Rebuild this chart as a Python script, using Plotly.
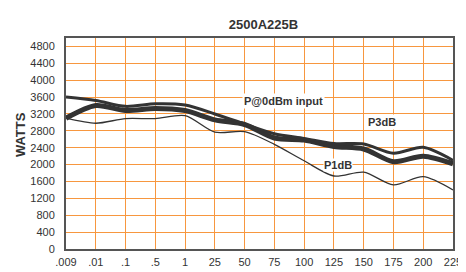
import plotly.graph_objects as go

categories = [".009", ".01", ".1", ".5", "1", "25", "50", "75", "100", "125", "150", "175", "200", "225"]
p3db = [3600, 3520, 3380, 3440, 3410, 3200, 2960, 2730, 2620, 2500, 2490, 2270, 2410, 2100]
p0dbm = [3100, 3400, 3280, 3330, 3280, 3060, 2950, 2630, 2580, 2430, 2370, 2070, 2200, 2020]
p1db = [3100, 2980, 3090, 3090, 3160, 2770, 2780, 2480, 2090, 1730, 1820, 1520, 1715, 1400]
y_ticks = list(range(0, 5000, 400))

xpos = list(range(len(categories)))
FONT = "Liberation Sans, Arial, sans-serif"
GRID = "#F7973F"
LINE = "#333333"
L, R = 58, 13
PW = 466 - L - R

fig = go.Figure()
fig.add_trace(go.Scatter(x=xpos, y=p1db, mode="lines", line=dict(color=LINE, width=1.3, shape="spline", smoothing=0.8), name="P1dB"))
fig.add_trace(go.Scatter(x=xpos, y=p0dbm, mode="lines", line=dict(color=LINE, width=5, shape="spline", smoothing=0.8), name="P@0dBm input"))
fig.add_trace(go.Scatter(x=xpos, y=p3db, mode="lines", line=dict(color=LINE, width=3, shape="spline", smoothing=0.8), name="P3dB"))

fig.update_layout(
    width=466, height=272,
    margin=dict(l=L, r=R, t=30, b=16),
    paper_bgcolor="white", plot_bgcolor="white",
    showlegend=False,
    font=dict(family=FONT, size=11, color="#333333"),
    title=dict(text="<b>2500A225B</b>", x=(L + PW / 2) / 466, xanchor="center", y=1 - 16 / 272, yanchor="middle",
               font=dict(family=FONT, size=13, color="#333333")),
)
fig.update_xaxes(
    range=[0, 13], tickmode="array", tickvals=xpos, ticktext=categories,
    showgrid=True, gridcolor=GRID, gridwidth=1.3,
    showline=True, linecolor="#555555", linewidth=2, mirror=True,
    ticks="", ticklabelstandoff=2, zeroline=False,
    tickfont=dict(family=FONT, size=11, color="#333333"),
)
fig.update_yaxes(
    range=[0, 5000], tickmode="array", tickvals=y_ticks, ticktext=[str(v) for v in y_ticks],
    showgrid=True, gridcolor=GRID, gridwidth=1.3,
    showline=True, linecolor="#555555", linewidth=2, mirror=True,
    ticks="", ticklabelstandoff=7, zeroline=False,
    tickfont=dict(family=FONT, size=11, color="#333333"),
)

fig.add_annotation(text="<b>WATTS</b>", xref="paper", yref="paper", x=(11 - L) / PW, y=(256 - 133) / 226,
                   textangle=-90, showarrow=False, font=dict(family=FONT, size=13, color="#333333"),
                   xanchor="center", yanchor="middle")
label_font = dict(family=FONT, size=11, color="#333333")
fig.add_annotation(text="<b>P@0dBm input</b>", xref="x", yref="paper", x=7.3, y=(256 - 97) / 226,
                   showarrow=False, font=label_font, bgcolor="white", borderpad=1, xanchor="center", yanchor="middle")
fig.add_annotation(text="<b>P3dB</b>", xref="x", yref="paper", x=10.6, y=(256 - 120) / 226,
                   showarrow=False, font=label_font, bgcolor="white", borderpad=1, xanchor="center", yanchor="middle")
fig.add_annotation(text="<b>P1dB</b>", xref="x", yref="paper", x=9.15, y=(256 - 166) / 226,
                   showarrow=False, font=label_font, bgcolor="white", borderpad=0, xanchor="center", yanchor="middle")

fig.write_html("out.html")
